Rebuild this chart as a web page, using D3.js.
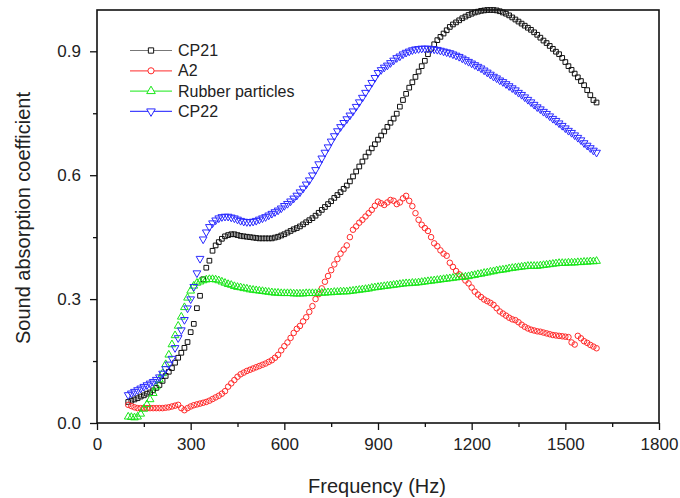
<!DOCTYPE html>
<html lang="en">
<head>
<meta charset="utf-8">
<title>sound absorption</title>
<script src="https://d3js.org/d3.v7.min.js"></script>
<style>
  body{margin:0;background:#fff;font-family:"Liberation Sans",Arial,sans-serif;}
  .tick text{font-size:17px;fill:#222;}
</style>
</head>
<body>
<div id="chart"></div>
<script>
// measured frequencies (Hz)
var freq = [100,110,120,130,140,150,160,170,180,190,200,210,220,230,240,250,260,270,280,290,
  300,310,320,330,340,350,360,370,380,390,400,410,420,430,440,450,460,470,480,490,
  500,510,520,530,540,550,560,570,580,590,600,610,620,630,640,650,660,670,680,690,
  700,710,720,730,740,750,760,770,780,790,800,810,820,830,840,850,860,870,880,890,
  900,910,920,930,940,950,960,970,980,990,1000,1010,1020,1030,1040,1050,1060,1070,1080,1090,
  1100,1110,1120,1130,1140,1150,1160,1170,1180,1190,1200,1210,1220,1230,1240,1250,1260,1270,1280,1290,
  1300,1310,1320,1330,1340,1350,1360,1370,1380,1390,1400,1410,1420,1430,1440,1450,1460,1470,1480,1490,
  1500,1510,1520,1530,1540,1550,1560,1570,1580,1590,1600]

var cp21 = [0.051,0.054,0.057,0.060,0.064,0.067,0.071,0.074,0.079,0.085,
  0.092,0.102,0.114,0.124,0.133,0.146,0.158,0.170,0.182,0.196,
  0.220,0.240,0.278,0.308,0.348,0.376,0.393,0.417,0.430,0.438,
  0.446,0.452,0.455,0.457,0.457,0.455,0.453,0.452,0.451,0.450,
  0.449,0.448,0.447,0.447,0.447,0.447,0.447,0.449,0.451,0.454,
  0.457,0.461,0.465,0.469,0.472,0.476,0.481,0.486,0.491,0.496,
  0.502,0.509,0.516,0.523,0.530,0.537,0.545,0.552,0.559,0.567,
  0.575,0.585,0.597,0.609,0.621,0.633,0.645,0.655,0.665,0.675,
  0.686,0.696,0.706,0.717,0.727,0.737,0.749,0.766,0.782,0.797,
  0.812,0.825,0.838,0.851,0.864,0.877,0.893,0.906,0.917,0.927,
  0.935,0.943,0.951,0.959,0.965,0.970,0.975,0.980,0.984,0.988,
  0.991,0.994,0.996,0.998,0.999,1.000,1.000,1.000,0.999,0.997,
  0.994,0.991,0.987,0.982,0.977,0.972,0.967,0.962,0.957,0.952,
  0.946,0.940,0.933,0.926,0.920,0.913,0.906,0.899,0.893,0.884,
  0.874,0.864,0.855,0.846,0.837,0.828,0.818,0.806,0.794,0.782,0.776]

var a2 = [0.044,0.041,0.038,0.036,0.036,0.036,0.036,0.036,0.036,0.036,
  0.036,0.036,0.037,0.038,0.040,0.042,0.044,0.036,0.031,0.036,
  0.040,0.043,0.045,0.047,0.049,0.051,0.054,0.058,0.062,0.066,
  0.071,0.077,0.088,0.096,0.104,0.112,0.118,0.122,0.126,0.129,
  0.132,0.135,0.138,0.141,0.144,0.148,0.152,0.158,0.165,0.176,
  0.186,0.195,0.206,0.218,0.228,0.235,0.246,0.256,0.269,0.283,
  0.300,0.312,0.326,0.342,0.356,0.370,0.384,0.397,0.410,0.420,
  0.430,0.450,0.468,0.476,0.485,0.492,0.500,0.508,0.516,0.526,
  0.536,0.532,0.528,0.534,0.540,0.538,0.530,0.534,0.544,0.550,
  0.538,0.525,0.508,0.492,0.480,0.472,0.465,0.450,0.435,0.428,
  0.418,0.410,0.405,0.388,0.378,0.368,0.360,0.353,0.345,0.338,
  0.328,0.318,0.311,0.305,0.299,0.295,0.291,0.286,0.278,0.270,
  0.265,0.260,0.255,0.251,0.249,0.244,0.238,0.233,0.229,0.226,
  0.224,0.222,0.221,0.219,0.217,0.215,0.213,0.212,0.211,0.210,
  0.209,0.208,0.195,0.190,0.211,0.205,0.198,0.194,0.189,0.185,0.181]

var rubber = [0.015,0.014,0.013,0.015,0.022,0.034,0.045,0.057,0.072,0.088,
  0.105,0.120,0.142,0.165,0.190,0.212,0.235,0.257,0.280,0.303,
  0.320,0.332,0.339,0.342,0.345,0.347,0.348,0.348,0.347,0.345,
  0.342,0.339,0.336,0.334,0.331,0.329,0.328,0.326,0.325,0.323,
  0.322,0.321,0.320,0.319,0.318,0.317,0.316,0.315,0.315,0.314,
  0.314,0.314,0.314,0.313,0.313,0.313,0.313,0.314,0.314,0.314,
  0.314,0.315,0.315,0.315,0.316,0.316,0.317,0.317,0.318,0.318,
  0.318,0.319,0.320,0.321,0.322,0.323,0.324,0.325,0.327,0.328,
  0.329,0.330,0.331,0.332,0.333,0.334,0.335,0.336,0.337,0.338,
  0.338,0.339,0.339,0.340,0.341,0.342,0.343,0.344,0.345,0.346,
  0.347,0.348,0.349,0.350,0.351,0.352,0.353,0.353,0.354,0.355,
  0.357,0.358,0.360,0.361,0.363,0.364,0.366,0.367,0.369,0.370,
  0.371,0.372,0.374,0.375,0.376,0.377,0.378,0.379,0.380,0.380,
  0.380,0.380,0.381,0.382,0.383,0.384,0.385,0.386,0.387,0.387,
  0.387,0.388,0.388,0.388,0.389,0.389,0.390,0.390,0.391,0.391,0.392]

var cp22 = [0.068,0.072,0.076,0.080,0.084,0.088,0.092,0.096,0.100,0.105,
  0.111,0.120,0.131,0.142,0.156,0.182,0.206,0.225,0.250,0.278,
  0.300,0.330,0.363,0.398,0.445,0.462,0.475,0.484,0.491,0.496,
  0.499,0.500,0.500,0.498,0.496,0.493,0.490,0.488,0.487,0.487,
  0.488,0.490,0.493,0.496,0.499,0.503,0.507,0.511,0.515,0.520,
  0.526,0.531,0.537,0.544,0.551,0.559,0.568,0.578,0.588,0.600,
  0.613,0.627,0.641,0.655,0.668,0.682,0.695,0.707,0.717,0.727,
  0.736,0.745,0.755,0.766,0.777,0.788,0.800,0.812,0.824,0.836,
  0.848,0.855,0.861,0.866,0.872,0.878,0.884,0.888,0.893,0.897,
  0.900,0.903,0.905,0.906,0.907,0.907,0.907,0.906,0.905,0.904,
  0.902,0.900,0.898,0.896,0.893,0.890,0.887,0.883,0.879,0.875,
  0.871,0.867,0.863,0.859,0.854,0.849,0.844,0.839,0.835,0.830,
  0.826,0.821,0.816,0.811,0.806,0.800,0.795,0.789,0.783,0.777,
  0.771,0.765,0.760,0.754,0.749,0.743,0.737,0.732,0.726,0.720,
  0.714,0.708,0.703,0.697,0.691,0.685,0.678,0.672,0.666,0.660,0.655]

var seriesNames = ["CP21", "A2", "Rubber particles", "CP22"]
var xTicks = [0, 300, 600, 900, 1200, 1500, 1800]
var yTicks = [0.0, 0.3, 0.6, 0.9]

var W = 680, H = 498
var padL = 97, padR = 659, padT = 10, padB = 423

var svg = d3.select("#chart").append("svg").attr("width", W).attr("height", H)

var x = d3.scaleLinear().domain([0, 1800]).range([padL, padR])
var y = d3.scaleLinear().domain([0, 1.0]).range([padB, padT])

// minor ticks first
svg.append("g").attr("transform", "translate(0," + padB + ")")
  .call(d3.axisBottom(x).tickValues([150, 450, 750, 1050, 1350, 1650]).tickSize(4).tickFormat(""))
svg.append("g").attr("transform", "translate(" + padL + ",0)")
  .call(d3.axisLeft(y).tickValues([0.15, 0.45, 0.75]).tickSize(4).tickFormat(""))

svg.append("g").attr("transform", "translate(0," + padB + ")")
  .call(d3.axisBottom(x).tickValues(xTicks).tickSize(7).tickPadding(8).tickFormat(d3.format("d")))
svg.append("g").attr("transform", "translate(" + padL + ",0)")
  .call(d3.axisLeft(y).tickValues(yTicks).tickSize(7).tickPadding(9).tickFormat(d3.format(".1f")))
svg.selectAll(".domain").remove()
svg.selectAll(".tick line").attr("stroke", "#111").attr("stroke-width", 1.3)

// frame
svg.append("rect").attr("x", padL).attr("y", padT).attr("width", padR - padL).attr("height", padB - padT)
  .attr("fill", "none").attr("stroke", "#111").attr("stroke-width", 1.6)

svg.append("text").attr("x", 377).attr("y", 493).attr("text-anchor", "middle")
  .style("font-size", "20px").attr("fill", "#222").text("Frequency (Hz)")
svg.append("text").attr("transform", "translate(30,218) rotate(-90)").attr("text-anchor", "middle")
  .style("font-size", "20px").attr("fill", "#222").text("Sound absorption coefficient")

var styles = [
  {vals: cp21, color: "#111", legendLine: "#777", sym: d3.symbolSquare, size: 22, rot: 0},
  {vals: a2, color: "#ff2a2a", legendLine: "#ff5555", sym: d3.symbolCircle, size: 24, rot: 0},
  {vals: rubber, color: "#19e619", legendLine: "#44ee44", sym: d3.symbolTriangle, size: 26, rot: 0},
  {vals: cp22, color: "#2a2aff", legendLine: "#4444ff", sym: d3.symbolTriangle, size: 26, rot: 180}
]

styles.forEach(function(s) {
  var pts = freq.map(function(f, i) { return [f, s.vals[i]] })
  svg.append("g").selectAll("path").data(pts).enter().append("path")
    .attr("d", d3.symbol().type(s.sym).size(s.size))
    .attr("transform", function(d) {
      return "translate(" + x(d[0]) + "," + y(d[1]) + ") rotate(" + s.rot + ")"
    })
    .attr("fill", "none").attr("stroke", s.color).attr("stroke-width", 1)
})

// legend
var lg = svg.append("g")
styles.forEach(function(s, i) {
  var ly = 50.5 + i * 20.3
  lg.append("line").attr("x1", 130).attr("x2", 172).attr("y1", ly).attr("y2", ly)
    .attr("stroke", s.legendLine).attr("stroke-width", 1.2)
  lg.append("path").attr("d", d3.symbol().type(s.sym).size(s.size + 6))
    .attr("transform", "translate(151," + ly + ") rotate(" + s.rot + ")")
    .attr("fill", "#fff").attr("stroke", s.color).attr("stroke-width", 1)
  lg.append("text").attr("x", 178).attr("y", ly + 5.5).style("font-size", "16px").attr("fill", "#222")
    .text(seriesNames[i])
})
</script>
</body>
</html>
